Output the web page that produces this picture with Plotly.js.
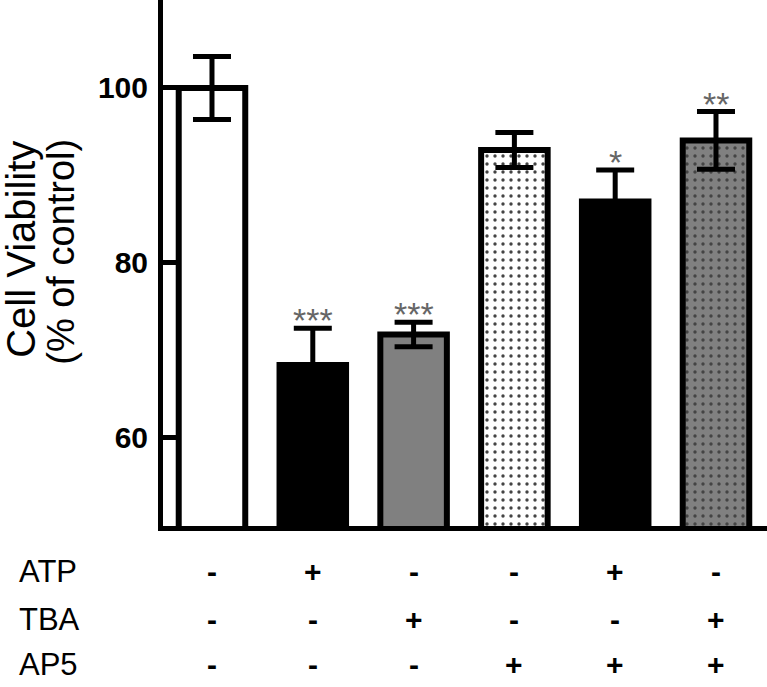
<!DOCTYPE html>
<html>
<head>
<meta charset="utf-8">
<script src="https://cdn.plot.ly/plotly-3.0.1.min.js"></script>
<style>html,body{margin:0;padding:0;background:#fff;}</style>
</head>
<body>
<div id="chart" style="width:767px;height:687px;"></div>
<script>
// ---- data ----
var groups = [0, 1, 2, 3, 4, 5];
var viability = [100, 68.3, 71.8, 92.9, 87.0, 94.0];
var errors = [3.6, 4.2, 1.4, 2.0, 3.6, 3.3];
var significance = ['', '***', '***', '', '*', '**'];
var rowLabels = ['ATP', 'TBA', 'AP5'];
var atp = ['-', '+', '-', '-', '+', '-'];
var tba = ['-', '-', '+', '-', '-', '+'];
var ap5 = ['-', '-', '-', '+', '+', '+'];
var rows = [atp, tba, ap5];

// ---- styles ----
var fills = ['#ffffff', '#000000', '#808080', '#ffffff', '#000000', '#808080'];
var patterns = ['', '', '', '.', '', '.'];

var trace = {
  type: 'bar',
  x: groups,
  y: viability,
  width: 0.66,
  marker: {
    color: fills,
    line: {color: '#000', width: 6},
    pattern: {shape: patterns, fgcolor: '#000', fgopacity: 1, size: 8, solidity: 0.14, fillmode: 'overlay'}
  },
  error_y: {type: 'data', array: errors, visible: true, color: '#000', thickness: 5, width: 19},
  hoverinfo: 'none'
};

var annotations = [];
var FONT = 'Liberation Sans, Arial, sans-serif';
// significance stars
for (var i = 0; i < groups.length; i++) {
  if (significance[i]) {
    annotations.push({
      x: groups[i], y: viability[i] + errors[i], xref: 'x', yref: 'y',
      text: significance[i], showarrow: false, yanchor: 'middle', yshift: 8,
      font: {family: FONT, size: 34, color: '#666'}
    });
  }
}
// treatment table
var rowShift = [-45.5, -93.5, -138.5];
for (var r = 0; r < rows.length; r++) {
  annotations.push({
    x: (17 - 163) / 604, y: 0, xref: 'paper', yref: 'paper',
    text: rowLabels[r], showarrow: false, xanchor: 'left', yanchor: 'middle', yshift: rowShift[r],
    font: {family: FONT, size: 31, color: '#000'}
  });
  for (var j = 0; j < groups.length; j++) {
    annotations.push({
      x: groups[j], y: 0, xref: 'x', yref: 'paper',
      text: '<b>' + rows[r][j] + '</b>', showarrow: false, yanchor: 'middle', yshift: rowShift[r],
      font: {family: FONT, size: 30, color: '#000'}
    });
  }
}
// y title (two lines)
annotations.push({
  x: (21 - 163) / 604, y: 1 - 250 / 526.5, xref: 'paper', yref: 'paper',
  text: 'Cell Viability', showarrow: false, textangle: -90, xanchor: 'center', yanchor: 'middle',
  font: {family: FONT, size: 40, color: '#000'}
});
annotations.push({
  x: (61 - 163) / 604, y: 1 - 252 / 526.5, xref: 'paper', yref: 'paper',
  text: '(% of control)', showarrow: false, textangle: -90, xanchor: 'center', yanchor: 'middle',
  font: {family: FONT, size: 38, color: '#000'}
});

var layout = {
  width: 767, height: 687,
  margin: {l: 163, r: 0, t: 0, b: 160.5, pad: 0},
  paper_bgcolor: '#fff', plot_bgcolor: '#fff',
  showlegend: false,
  xaxis: {
    range: [-0.486, 5.506], showticklabels: false, ticks: '', showgrid: false, zeroline: false,
    showline: true, linecolor: '#000', linewidth: 5, fixedrange: true
  },
  yaxis: {
    range: [49.89, 110.06], tickvals: [60, 80, 100], ticktext: ['60', '80', '100'],
    ticks: 'inside', ticklen: 14, tickwidth: 5, tickcolor: '#000',
    showgrid: false, zeroline: false, showline: true, linecolor: '#000', linewidth: 5,
    tickfont: {family: FONT, size: 30, color: '#000', weight: 'bold'},
    ticklabelstandoff: 4, fixedrange: true
  },
  annotations: annotations
};

Plotly.newPlot('chart', [trace], layout, {displayModeBar: false, staticPlot: true});
</script>
</body>
</html>
